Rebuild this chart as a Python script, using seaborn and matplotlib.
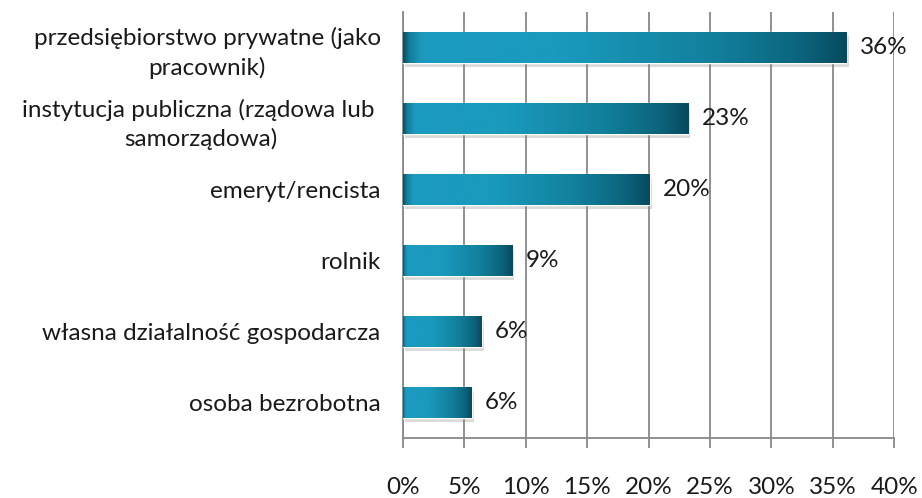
import numpy as np
import pandas as pd
import matplotlib
matplotlib.use("Agg")
import matplotlib.pyplot as plt
import matplotlib.patheffects as pe
from matplotlib.colors import LinearSegmentedColormap
from matplotlib.ticker import MultipleLocator, FuncFormatter
import seaborn as sns

# dane
kategorie = [
    "przedsiębiorstwo prywatne (jako\npracownik)",
    "instytucja publiczna (rządowa lub \nsamorządowa)",
    "emeryt/rencista",
    "rolnik",
    "własna działalność gospodarcza",
    "osoba bezrobotna",
]
wartosci = [36.1, 23.2, 20.1, 8.9, 6.4, 5.6]
etykiety = ["36%", "23%", "20%", "9%", "6%", "6%"]

sns.set_style("white")
plt.rcParams["font.family"] = ["Lato", "DejaVu Sans"]

df = pd.DataFrame({"kat": kategorie, "val": wartosci})

fig = plt.figure(figsize=(9.22, 4.98), dpi=100)
ax = fig.add_axes([0.437, 0.120, 0.533, 0.856])

sns.barplot(data=df, x="val", y="kat", orient="h", color="#1789a8",
            width=0.43, ax=ax, zorder=3)

cmap = LinearSegmentedColormap.from_list("bar", [
    (0.0, "#0b4f63"), (0.012, "#137c98"), (0.04, "#1c9ac0"),
    (0.35, "#1a9abd"), (0.7, "#12809d"), (0.9, "#0c647c"), (1.0, "#064a5e")])
grad = np.linspace(0, 1, 256).reshape(1, -1)

for p in ax.patches:
    p.set_path_effects([pe.SimplePatchShadow(offset=(1.5, -3), shadow_rgbFace="#888888", alpha=0.3),
                        pe.Normal()])
    x0, y0 = p.get_x(), p.get_y()
    w, h = p.get_width(), p.get_height()
    im = ax.imshow(grad, cmap=cmap, aspect="auto", extent=[x0, x0 + w, y0 + h, y0],
                   zorder=4, interpolation="bicubic")
    im.set_clip_path(p)

for i, p in enumerate(ax.patches):
    ax.text(p.get_x() + p.get_width() + 1.1, p.get_y() + p.get_height() / 2, etykiety[i],
            va="center", ha="left", fontsize=17.5, color="#1a1a1a", zorder=5)

ax.set_xlim(0, 40)
ax.set_ylim(len(kategorie) - 0.5, -0.5)
ax.xaxis.set_major_locator(MultipleLocator(5))
ax.xaxis.set_major_formatter(FuncFormatter(lambda x, p: f"{x:.0f}%"))
ax.set_xlabel("")
ax.set_ylabel("")

ax.grid(axis="x", color="#888888", linewidth=1.3, zorder=0)
ax.set_axisbelow(True)

ax.set_yticks(np.arange(len(kategorie)) - 0.5, minor=True)
ax.tick_params(axis="y", which="major", length=0, pad=16, labelsize=17.5, labelcolor="#1a1a1a")
ax.tick_params(axis="y", which="minor", length=7, width=1.3, color="#888888")
ax.tick_params(axis="x", length=7, width=1.3, color="#888888", bottom=True,
               labelsize=17.5, labelcolor="#1a1a1a", pad=21)
for lab in ax.get_yticklabels():
    lab.set_multialignment("center")
    lab.set_linespacing(1.4)

for s in ["top", "right"]:
    ax.spines[s].set_visible(False)
for s in ["left", "bottom"]:
    ax.spines[s].set_color("#888888")
    ax.spines[s].set_linewidth(1.3)

fig.savefig("out.png", dpi=100)
